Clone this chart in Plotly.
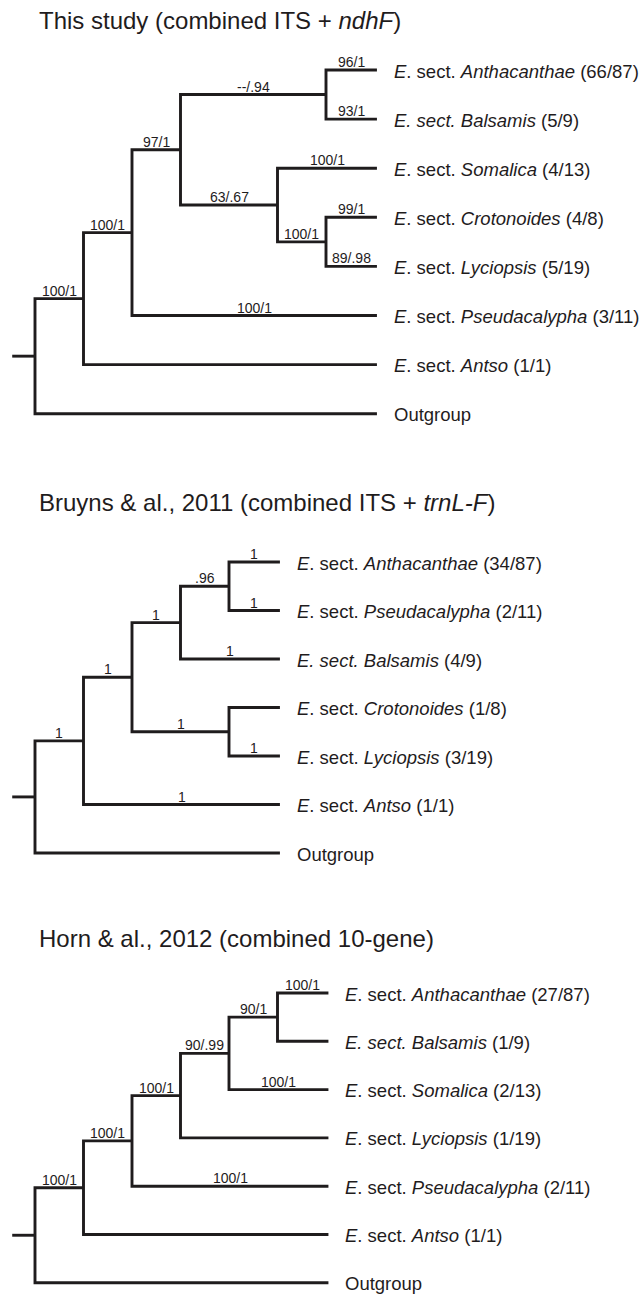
import plotly.graph_objects as go

# ---------------- data ----------------
titles = [
    "This study (combined ITS + <i>ndhF</i>)",
    "Bruyns &amp; al., 2011 (combined ITS + <i>trnL-F</i>)",
    "Horn &amp; al., 2012 (combined 10-gene)",
]

# Tree 1: This study
t1_tips = [
    "<i>E</i>. sect. <i>Anthacanthae</i> (66/87)",
    "<i>E. sect. Balsamis</i> (5/9)",
    "<i>E</i>. sect. <i>Somalica</i> (4/13)",
    "<i>E</i>. sect. <i>Crotonoides</i> (4/8)",
    "<i>E</i>. sect. <i>Lyciopsis</i> (5/19)",
    "<i>E</i>. sect. <i>Pseudacalypha</i> (3/11)",
    "<i>E</i>. sect. <i>Antso</i> (1/1)",
    "Outgroup",
]
t1_tip_parent = ["ab", "ab", "scl", "cl", "cl", "n2", "in", "root"]
t1_tip_support = ["96/1", "93/1", "100/1", "99/1", "89/.98", "100/1", "", ""]
t1_nodes = ["root", "in", "n2", "n3", "ab", "scl", "cl"]
t1_node_parent = [None, "root", "in", "n2", "n3", "n3", "scl"]
t1_node_level = [0, 1, 2, 3, 6, 5, 6]
t1_node_support = ["", "100/1", "100/1", "97/1", "--/.94", "63/.67", "100/1"]

# Tree 2: Bruyns & al., 2011
t2_tips = [
    "<i>E</i>. sect. <i>Anthacanthae</i> (34/87)",
    "<i>E</i>. sect. <i>Pseudacalypha</i> (2/11)",
    "<i>E. sect. Balsamis</i> (4/9)",
    "<i>E</i>. sect. <i>Crotonoides</i> (1/8)",
    "<i>E</i>. sect. <i>Lyciopsis</i> (3/19)",
    "<i>E</i>. sect. <i>Antso</i> (1/1)",
    "Outgroup",
]
t2_tip_parent = ["ap", "ap", "nb", "cl", "cl", "in", "root"]
t2_tip_support = ["1", "1", "1", "", "1", "1", ""]
t2_nodes = ["root", "in", "na", "nb", "ap", "cl"]
t2_node_parent = [None, "root", "in", "na", "nb", "na"]
t2_node_level = [0, 1, 2, 3, 4, 4]
t2_node_support = ["", "1", "1", "1", ".96", "1"]

# Tree 3: Horn & al., 2012
t3_tips = [
    "<i>E</i>. sect. <i>Anthacanthae</i> (27/87)",
    "<i>E. sect. Balsamis</i> (1/9)",
    "<i>E</i>. sect. <i>Somalica</i> (2/13)",
    "<i>E</i>. sect. <i>Lyciopsis</i> (1/19)",
    "<i>E</i>. sect. <i>Pseudacalypha</i> (2/11)",
    "<i>E</i>. sect. <i>Antso</i> (1/1)",
    "Outgroup",
]
t3_tip_parent = ["n5", "n5", "n4", "n3", "n2", "in", "root"]
t3_tip_support = ["100/1", "", "100/1", "", "100/1", "", ""]
t3_nodes = ["root", "in", "n2", "n3", "n4", "n5"]
t3_node_parent = [None, "root", "in", "n2", "n3", "n4"]
t3_node_level = [0, 1, 2, 3, 4, 5]
t3_node_support = ["", "100/1", "100/1", "100/1", "90/.99", "90/1"]

# ---------------- style / layout ----------------
W, H = 639, 1295
INK = "#1f1c1d"
FONT = "Arial, Liberation Sans, Helvetica, sans-serif"
LW = 2.9
PX_LEVEL = 48.5      # pixels per depth level
X0_PX = 35           # pixel of root
TIP_EXTRA = 1.05     # terminal branch beyond deepest node (levels)
STUB = 0.47          # root stub length (levels)
# per panel: pixel of first tip, pixel spacing between tips, title offset (tip units)
panels = [
    dict(y0=70, s=49.1, title_off=-1.05),
    dict(y0=562, s=48.5, title_off=-1.27),
    dict(y0=993, s=48.3, title_off=-1.18),
]
trees = [
    (t1_tips, t1_tip_parent, t1_tip_support, t1_nodes, t1_node_parent, t1_node_level, t1_node_support),
    (t2_tips, t2_tip_parent, t2_tip_support, t2_nodes, t2_node_parent, t2_node_level, t2_node_support),
    (t3_tips, t3_tip_parent, t3_tip_support, t3_nodes, t3_node_parent, t3_node_level, t3_node_support),
]

fig = go.Figure()
annotations = []
layout_axes = {}

for k, (tips, tparent, tsup, nodes, nparent, nlevel, nsup) in enumerate(trees):
    yname = "y" if k == 0 else f"y{k+1}"
    axname = "yaxis" if k == 0 else f"yaxis{k+1}"
    p = panels[k]
    r_top = -p["y0"] / p["s"]
    r_bot = (H - p["y0"]) / p["s"]
    ax = dict(range=[r_bot, r_top], visible=False, domain=[0, 1], fixedrange=True)
    if k > 0:
        ax.update(overlaying="y", anchor="x")
    layout_axes[axname] = ax

    # build node table
    tip_x = max(nlevel) + TIP_EXTRA
    pos = {}
    children = {n: [] for n in nodes}
    for i, t in enumerate(tips):
        key = ("tip", i)
        pos[key] = (tip_x, float(i))
        children[tparent[i]].append(key)
    for n, par in zip(nodes, nparent):
        if par is not None:
            children[par].append(n)
    lvl = dict(zip(nodes, nlevel))

    def gety(n):
        if n in pos:
            return pos[n][1]
        ys = [gety(c) for c in children[n]]
        y = (min(ys) + max(ys)) / 2
        pos[n] = (lvl[n], y)
        return y

    for n in nodes:
        gety(n)

    xs, ys = [], []
    for n in nodes:
        ch = sorted(children[n], key=lambda c: pos[c][1])
        a, b = ch[0], ch[-1]
        px, _ = pos[n]
        xs += [pos[a][0], px, px, pos[b][0], None]
        ys += [pos[a][1], pos[a][1], pos[b][1], pos[b][1], None]
        for c in ch[1:-1]:
            xs += [px, pos[c][0], None]
            ys += [pos[c][1], pos[c][1], None]
    rx, ry = pos["root"]
    xs += [rx - STUB, rx, None]
    ys += [ry, ry, None]

    fig.add_trace(go.Scatter(
        x=xs, y=ys, mode="lines", yaxis=yname, xaxis="x",
        line=dict(color=INK, width=LW), hoverinfo="skip", showlegend=False,
    ))

    # support values (centered above branch)
    parent_of = {("tip", i): tparent[i] for i in range(len(tips))}
    sup_of = {("tip", i): tsup[i] for i in range(len(tips))}
    for n, par, s in zip(nodes, nparent, nsup):
        parent_of[n] = par
        sup_of[n] = s
    for key, s in sup_of.items():
        if not s or parent_of[key] is None:
            continue
        cx, cy = pos[key]
        parx = pos[parent_of[key]][0]
        annotations.append(dict(
            x=(cx + parx) / 2, y=cy, xref="x", yref=yname, text=s,
            showarrow=False, xanchor="center", yanchor="middle", yshift=8,
            font=dict(family=FONT, size=14, color=INK),
        ))

    # tip labels
    for i, t in enumerate(tips):
        annotations.append(dict(
            x=tip_x, y=float(i), xref="x", yref=yname, text=t,
            showarrow=False, xanchor="left", yanchor="middle", xshift=15, yshift=-1,
            font=dict(family=FONT, size=18.5, color=INK),
        ))

    # title
    annotations.append(dict(
        x=(37 - X0_PX) / PX_LEVEL, y=p["title_off"], xref="x", yref=yname,
        text=titles[k], showarrow=False, xanchor="left", yanchor="middle", yshift=-2,
        font=dict(family=FONT, size=24, color=INK),
    ))

x_lo = -X0_PX / PX_LEVEL
x_hi = (W - X0_PX) / PX_LEVEL
fig.update_layout(
    width=W, height=H,
    margin=dict(l=0, r=0, t=0, b=0),
    paper_bgcolor="white", plot_bgcolor="white",
    xaxis=dict(range=[x_lo, x_hi], visible=False, domain=[0, 1], fixedrange=True),
    annotations=annotations,
    showlegend=False,
    **layout_axes,
)
fig.write_html(
    "out.html",
    config={"displayModeBar": False, "staticPlot": True},
    post_script="document.body.style.margin='0px';document.body.style.overflow='hidden';",
)
